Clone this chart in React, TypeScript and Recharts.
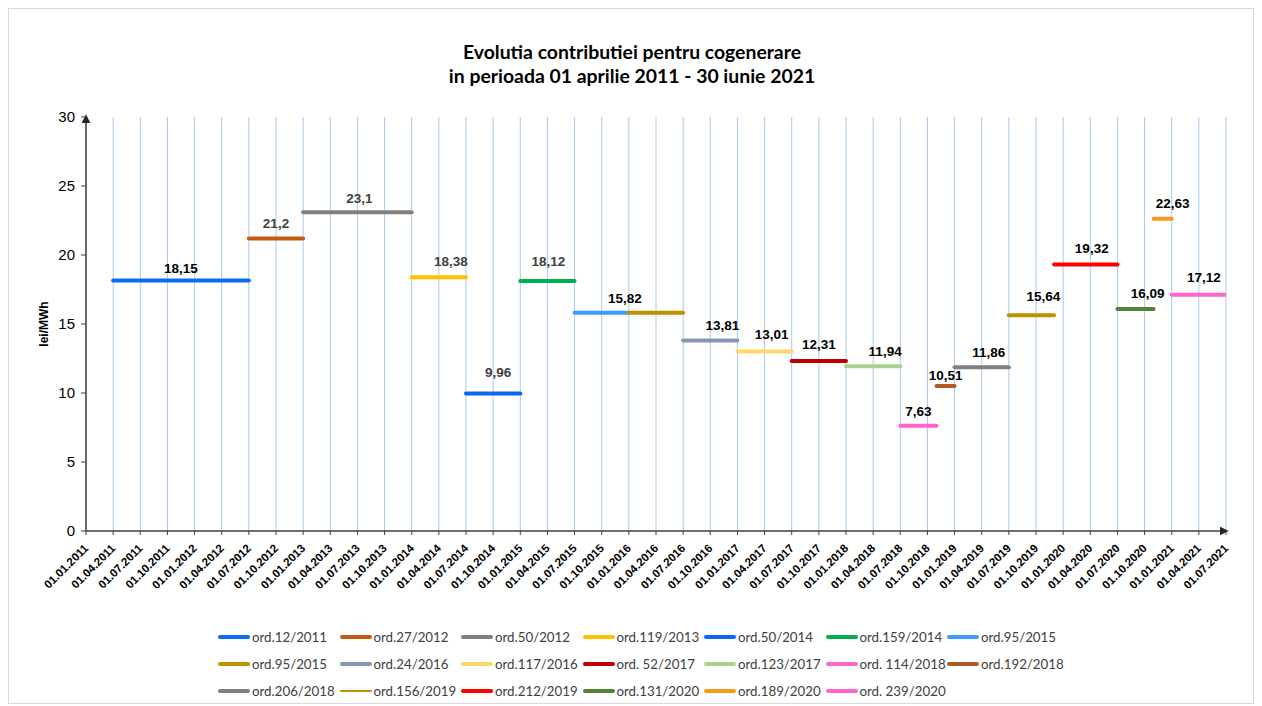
import React from 'react';
import { ComposedChart, Line, Scatter, XAxis, YAxis, CartesianGrid, Legend } from 'recharts';

const segmentNames = ['ord.12/2011', 'ord.27/2012', 'ord.50/2012', 'ord.119/2013', 'ord.50/2014', 'ord.159/2014', 'ord.95/2015', 'ord.95/2015', 'ord.24/2016', 'ord.117/2016', 'ord. 52/2017', 'ord.123/2017', 'ord. 114/2018', 'ord.192/2018', 'ord.206/2018', 'ord.156/2019', 'ord.212/2019', 'ord.131/2020', 'ord.189/2020', 'ord. 239/2020'];
const segmentStarts = ['01.04.2011', '01.07.2012', '01.01.2013', '01.01.2014', '01.07.2014', '01.01.2015', '01.07.2015', '01.01.2016', '01.07.2016', '01.01.2017', '01.07.2017', '01.01.2018', '01.07.2018', '01.11.2018', '01.01.2019', '01.07.2019', '01.12.2019', '01.07.2020', '01.11.2020', '01.01.2021'];
const segmentEnds = ['01.07.2012', '01.01.2013', '01.01.2014', '01.07.2014', '01.01.2015', '01.07.2015', '01.01.2016', '01.07.2016', '01.01.2017', '01.07.2017', '01.01.2018', '01.07.2018', '01.11.2018', '01.01.2019', '01.07.2019', '01.12.2019', '01.07.2020', '01.11.2020', '01.01.2021', '01.07.2021'];
const segmentValues = [18.15, 21.2, 23.1, 18.38, 9.96, 18.12, 15.82, 15.82, 13.81, 13.01, 12.31, 11.94, 7.63, 10.51, 11.86, 15.64, 19.32, 16.09, 22.63, 17.12];
const segmentColors = ['#0a6cf5', '#c55a11', '#808080', '#ffc000', '#0a66f0', '#00b050', '#3d9bff', '#bf9000', '#8497b0', '#ffd966', '#c00000', '#a9d18e', '#ff66cc', '#b05a28', '#808080', '#bf9000', '#ff0000', '#548235', '#f79a1e', '#ff66cc'];
const legendThin = [15];

const labelTexts = ['18,15', '21,2', '23,1', '18,38', '9,96', '18,12', '15,82', '13,81', '13,01', '12,31', '11,94', '7,63', '10,51', '11,86', '15,64', '19,32', '16,09', '22,63', '17,12'];
const labelFirstSegment = [0, 1, 2, 3, 4, 5, 6, 8, 9, 10, 11, 12, 13, 14, 15, 16, 17, 18, 19];
const labelLastSegment = [0, 1, 2, 3, 4, 5, 7, 8, 9, 10, 11, 12, 13, 14, 15, 16, 17, 18, 19];
const labelGray = [1, 2, 3, 4, 5];
const labelDx = [0, 0, 2, 12, 5, 1, -4, 12, 7, 0, 12, 0, 0, 7, 12, 6, 12, 10, 5];
const labelDy = [13, 15, 14, 16, 22, 20, 15, 15, 17, 17, 15, 15, 11, 15, 19, 16, 16, 16, 18];

const xTickLabels = ['01.01.2011', '01.04.2011', '01.07.2011', '01.10.2011', '01.01.2012', '01.04.2012', '01.07.2012', '01.10.2012', '01.01.2013', '01.04.2013', '01.07.2013', '01.10.2013', '01.01.2014', '01.04.2014', '01.07.2014', '01.10.2014', '01.01.2015', '01.04.2015', '01.07.2015', '01.10.2015', '01.01.2016', '01.04.2016', '01.07.2016', '01.10.2016', '01.01.2017', '01.04.2017', '01.07.2017', '01.10.2017', '01.01.2018', '01.04.2018', '01.07.2018', '01.10.2018', '01.01.2019', '01.04.2019', '01.07.2019', '01.10.2019', '01.01.2020', '01.04.2020', '01.07.2020', '01.10.2020', '01.01.2021', '01.04.2021', '01.07.2021'];
const yTicks = [0, 5, 10, 15, 20, 25, 30];

const titleLines = ['Evolutia contributiei pentru cogenerare', 'in perioada 01 aprilie 2011 - 30 iunie 2021'];
const yAxisTitle = 'lei/MWh';

// month index since 01.01.2011
const toMonth = (s: string) => {
  const [d, m, y] = s.split('.').map(Number);
  return (y - 2011) * 12 + (m - 1) + (d - 1) / 30;
};

const xTicks = xTickLabels.map(toMonth);
const xMax = toMonth(xTickLabels[xTickLabels.length - 1]);

const seriesData = segmentValues.map((v, i) => [
  { m: toMonth(segmentStarts[i]), v },
  { m: toMonth(segmentEnds[i]), v },
]);

const labelPoints = labelTexts.map((t, i) => ({
  m: (toMonth(segmentStarts[labelFirstSegment[i]]) + toMonth(segmentEnds[labelLastSegment[i]])) / 2,
  v: segmentValues[labelFirstSegment[i]],
  label: t,
  idx: i,
}));

const ARIAL = '"Liberation Sans", Arial, sans-serif';
const CALIBRI = 'Lato, "Open Sans", sans-serif';

const XTick = (props: any) => {
  const { x, y, payload } = props;
  const i = xTicks.indexOf(payload.value);
  return (
    <g transform={`translate(${x + 3},${y + 14})`}>
      <text textAnchor="end" transform="rotate(-45)" fontSize={11.5} fontWeight="bold" fill="#000" fontFamily={ARIAL}>
        {i >= 0 ? xTickLabels[i] : ''}
      </text>
    </g>
  );
};

const LabelShape = (props: any) => {
  const { cx, cy, payload } = props;
  const i = payload.idx;
  return (
    <text
      x={cx + labelDx[i]}
      y={cy - labelDy[i] + 5}
      textAnchor="middle"
      fontSize={13.5}
      fontWeight="bold"
      fontFamily={ARIAL}
      fill={labelGray.includes(i) ? '#404040' : '#000'}
    >
      {payload.label}
    </text>
  );
};

const LegendGrid = () => (
  <div
    style={{
      display: 'grid',
      gridTemplateColumns: 'repeat(7, 121.5px)',
      gridAutoRows: '27px',
      paddingLeft: 210,
      height: 80,
      fontFamily: CALIBRI,
      fontSize: 13.3,
      color: '#404040',
    }}
  >
    {segmentNames.map((n, i) => (
      <div key={i} style={{ display: 'flex', alignItems: 'center', whiteSpace: 'nowrap' }}>
        <span
          style={{
            display: 'inline-block',
            width: 32,
            height: legendThin.includes(i) ? 2 : 4,
            borderRadius: 2,
            background: segmentColors[i],
            marginRight: 2,
          }}
        />
        {n}
      </div>
    ))}
  </div>
);

export default function App() {
  return (
    <div style={{ position: 'relative', width: 1246, height: 696 }}>
      <ComposedChart width={1246} height={696} margin={{ top: 109, right: 28, bottom: 0, left: 0 }}>
        <defs>
          <marker id="arrowHead" viewBox="0 0 10 10" refX="7" refY="5" markerWidth="6" markerHeight="6" orient="auto-start-reverse">
            <path d="M0,0 L10,5 L0,10 z" fill="#262626" />
          </marker>
        </defs>
        <text x={624} y={51} textAnchor="middle" fontFamily={CALIBRI} fontWeight="bold" fontSize={19.4} fill="#000">
          {titleLines[0]}
        </text>
        <text x={624} y={75} textAnchor="middle" fontFamily={CALIBRI} fontWeight="bold" fontSize={19.4} fill="#000">
          {titleLines[1]}
        </text>
        <text transform="translate(40,316) rotate(-90)" textAnchor="middle" fontFamily={ARIAL} fontWeight="bold" fontSize={12} fill="#000">
          {yAxisTitle}
        </text>
        <CartesianGrid horizontal={false} stroke="#a9cbec" strokeWidth={1} />
        <XAxis
          type="number"
          dataKey="m"
          domain={[0, xMax]}
          ticks={xTicks}
          interval={0}
          allowDataOverflow
          height={93}
          tick={<XTick />}
          tickSize={4}
          tickMargin={0}
          axisLine={{ stroke: '#404040', strokeWidth: 1.5, markerEnd: 'url(#arrowHead)' }}
          tickLine={{ stroke: '#404040' }}
        />
        <YAxis
          type="number"
          domain={[0, 30]}
          ticks={yTicks}
          interval={0}
          width={78}
          tickSize={5}
          tickMargin={6}
          tick={{ fontSize: 15, fill: '#000', fontFamily: ARIAL }}
          axisLine={{ stroke: '#404040', strokeWidth: 1.5, markerStart: 'url(#arrowHead)' }}
          tickLine={{ stroke: '#404040' }}
        />
        {seriesData.map((d, i) => (
          <Line
            key={i}
            data={d}
            dataKey="v"
            name={segmentNames[i]}
            stroke={segmentColors[i]}
            strokeWidth={4}
            strokeLinecap="round"
            dot={false}
            activeDot={false}
            isAnimationActive={false}
          />
        ))}
        <Scatter data={labelPoints} dataKey="v" shape={<LabelShape />} isAnimationActive={false} legendType="none" />
        <Legend
          verticalAlign="bottom"
          content={() => <LegendGrid />}
          wrapperStyle={{ left: 0, top: 615, width: 1246, height: 80 }}
        />
      </ComposedChart>
      <div style={{ position: 'absolute', inset: 0, border: '1px solid #d9d9d9', pointerEvents: 'none' }} />
    </div>
  );
}
